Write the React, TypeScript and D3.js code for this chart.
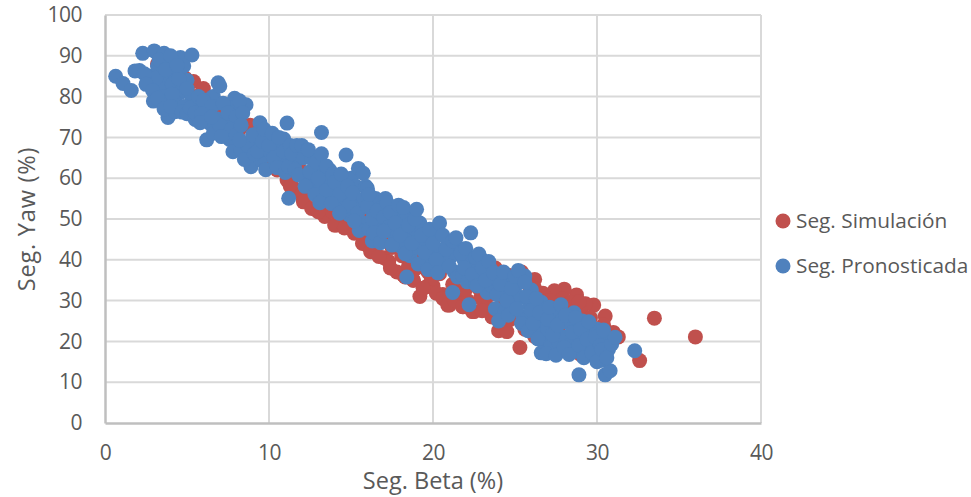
import React, { useEffect, useRef } from "react";
import * as d3 from "d3";

// [Seg. Beta, Seg. Yaw]
const simulacion: [number, number][] = [
  [33.5, 25.7], [36, 21.1], [32.6, 15.3], [19.2, 31], [25.3, 18.5], [21, 28.9], [22.5, 27.3], [21.85, 28.5],
  [24, 22.6], [24.5, 22.4], [30.5, 26.2], [30.4, 24], [29.8, 28.9], [29.3, 29.2], [28.75, 31.4], [28, 32.8], [27.4, 32.4],
  [26.7, 31.8], [26.2, 35.2], [25.4, 37], [31.3, 21.1], [18.8, 35], [5.4, 83.7], [6, 82], [8.85, 73], [7.8, 69.4],
  [8.6, 65.3], [11.1, 59.6], [11.5, 57.6], [12.1, 54.7], [13.4, 50.6], [14, 48.5], [14.8, 48.5], [15.3, 47.2],
  [16, 43.5], [16.4, 42.2], [17, 40.5], [17.3, 39.6], [17.8, 37], [18.2, 36.2], [19.6, 33.4], [20, 33.6], [20.6, 31.5],
  [19.9, 35.4], [18.5, 38.4], [21.4, 30.8], [22.1, 30], [22.9, 30.6], [23.3, 28.5], [23.6, 26], [24.7, 25.4],
  [25.6, 23], [26.2, 21.2], [27, 19], [28, 18.4], [29, 16.8], [30, 17.4], [30.8, 19.6], [31, 22.2], [27.9, 30.4],
  [27.1, 30], [26.2, 33], [25.8, 34], [28.4, 29.6], [29, 27.5], [29.6, 25.8], [28.9, 29.7], [24.6, 36.2], [23.8, 38],
  [3.2, 88], [3.8, 85], [4.4, 83], [4.9, 84.5], [5.5, 80], [6.3, 78], [7, 76], [7.6, 75.2], [8.2, 72], [9, 69], [9.6, 66],
  [9, 64.6], [10, 63], [10.5, 62], [11.3, 58], [12, 56], [12.6, 57.6], [13.1, 52.8], [13.8, 52], [14.5, 50],
  [15, 51], [15.8, 46], [16.6, 45.5], [17.5, 43], [18.1, 41], [19, 38], [19.7, 37], [20.4, 36.6], [21.2, 34], [22, 32.8],
  [22.8, 33], [23.5, 31.5], [24.2, 29], [25, 27.5], [26, 26], [26.8, 24], [27.6, 23], [28.5, 22], [29.4, 21],
  [8.2, 74.5], [10.2, 68], [11.8, 63], [13.2, 58.5], [14.6, 54], [16, 49.5], [17.4, 46.6], [18.9, 42], [20.5, 38.5],
  [22, 36], [23.6, 35], [25, 31], [26.5, 29], [28, 26.4], [29.3, 24], [30.2, 21],
  [12.1, 54.2], [12.6, 52.6], [13, 51.8], [14.1, 48.5], [14.6, 47.8], [15.2, 46.5], [15.7, 44], [16.2, 42], [16.7, 40.8],
  [17.4, 38], [18.3, 35.8], [18.8, 35], [19.4, 33], [20.2, 31.8], [20.6, 30.5], [20.9, 28.9], [21.3, 30], [21.8, 28.5],
  [22.4, 27.3], [23, 27.5],
];

const pronosticada: [number, number][] = [
  // upper left cloud
  [0.65, 85], [1.1, 83.2], [1.6, 81.5], [1.83, 86.3], [2.1, 86.4], [2.3, 90.6], [3, 91.2], [3.6, 90.6], [4.6, 89.6],
  [5.3, 90.2], [4.8, 87.5], [2.95, 78.9], [3.84, 74.9], [4.27, 76.3], [2.7, 85], [3.2, 87.5], [3.5, 85], [3.9, 88],
  [4.2, 86], [3.4, 82], [3.6, 80], [4.1, 83], [4.6, 81], [5, 84], [5.3, 79.5], [4.3, 78.5], [3.3, 89], [4, 90],
  [3.1, 84.5], [2.4, 85.6], [4.5, 84.4], [5, 82], [5.6, 78.2], [4.8, 77.6], [4.1, 80.6],
  [2.5, 83], [2.9, 81.5], [3.2, 79.6], [3.6, 77], [4, 77.6], [4.7, 76.2], [5, 75.8], [5.5, 74.4], [3.7, 86.6], [4.4, 87.6],
  // 5 - 10
  [5.2, 77.2], [5.7, 80], [6.1, 76.6], [6.3, 79.2], [6.8, 78.4], [6.8, 74.6], [7.3, 74.4], [7.4, 71.6], [7.8, 77.6], [8, 73],
  [7.6, 69.5], [6.6, 80], [5.5, 76],
  [6.9, 83.4], [6.2, 69.4], [7.8, 66.5], [8.6, 78], [7.9, 79.6], [8.2, 79], [7, 82.6], [6, 79], [6.5, 77.6], [7.2, 78.4],
  [5.9, 75.8], [6.4, 73.4], [5.8, 73.6], [6.6, 71], [7, 73], [7.5, 76], [8, 75], [8.4, 76], [7.7, 72], [7.1, 70.2],
  [6.5, 75], [8, 70.6], [8.3, 73], [9.45, 73.6], [9.3, 71], [9, 68.5], [8.8, 66], [8.9, 62.8], [9.5, 64.5], [9.8, 62.1],
  [8.3, 66.8], [8.5, 64.6], [8.7, 68], [9.1, 66], [9.5, 67], [8.2, 69.4],
  [9, 70.6], [9.3, 66.6], [9.6, 69], [9.7, 72], [10.1, 66.4], [10.4, 63.6], [10.5, 67.6], [10.8, 64], [10.9, 69.6],
  [10, 68], [10.2, 71], [10.6, 70], [11.1, 73.5], [10.3, 65], [10.9, 66.5], [10.5, 62.6], [11, 61.4], [11.3, 68], [11.6, 64],
  // 11 - 15
  [11.2, 62.8], [11.4, 66], [11.7, 68], [11.6, 62], [12.1, 65], [12.3, 60.2], [12.6, 64.8], [12.7, 58.4], [13, 62], [13.1, 57],
  [13.4, 60], [13.6, 55], [13.7, 62], [14, 56.8], [14.2, 53.5], [14.5, 59.4], [14.6, 55.4], [14.9, 51], [15, 60], [15.2, 54],
  [15.3, 58], [15.6, 52.8], [15.7, 49],
  [11.2, 55.1], [12, 68], [12.4, 67], [11.8, 60.8], [12.2, 58], [12.5, 61.6], [12.9, 64], [13.2, 66], [13.2, 71.2], [13, 60],
  [12.8, 56], [13.5, 63], [13.9, 61], [13.5, 57], [13.1, 54], [14, 59], [14.3, 56], [13.8, 53.8], [14.4, 61], [14.7, 65.7],
  [14.8, 58], [14.9, 53.4], [14.3, 51.4], [15.1, 56.4], [15.45, 62.4], [15.75, 61.2], [15.4, 51.4], [15.5, 47.2], [15.8, 55],
  [15.2, 49.5], [15.9, 58], [16, 57.5], [16.2, 52.5], [16.5, 55], [16.1, 47.5], [16.7, 49.4], [16.3, 44.6], [16.9, 53],
  // 16 - 21
  [16, 53], [16.1, 56], [16.3, 50], [16.4, 46.6], [16.6, 52], [16.8, 44.2], [17, 50.4], [17.1, 55], [17.3, 48], [17.6, 46.4],
  [17.8, 51], [18, 43.4], [18.1, 49], [18.4, 50.6], [18.6, 46], [18.6, 41], [18.9, 47.6], [19, 43], [19.2, 49], [19.4, 44],
  [19.6, 39.6], [19.9, 41.6], [20.1, 46], [20.5, 42.4], [20.6, 39], [20.9, 44.6], [21.1, 40.8], [21.3, 37], [21.5, 43],
  [17, 47], [17.2, 54], [17.4, 51.6], [17.5, 43.6], [17.7, 49], [17.9, 53.4], [18, 46], [18.2, 52.8], [18.3, 41.5], [18.5, 48.5],
  [18.7, 44], [18.9, 50], [19, 52.4], [18.4, 35.8], [19.1, 39], [19.3, 46], [19.5, 41.8], [19.8, 47.5], [19.7, 37.6], [20, 44],
  [20.2, 40], [20.4, 49], [20.3, 36.8], [20.6, 46], [20.8, 42.6], [21, 38.4], [21.2, 44.6], [21.4, 45.4], [21.2, 32], [21.5, 35.8],
  // 22 - 26
  [21.8, 36.2], [21.9, 40], [22.1, 34.6], [22.3, 39.6], [22.5, 38], [22.6, 34], [23, 40], [23.1, 36.4], [23.3, 32], [23.5, 37.8],
  [23.6, 33.6], [23.8, 28], [24, 36.4], [24.2, 31.6], [24.4, 27.4], [24.4, 35], [24.7, 32], [24.9, 28.6], [25.1, 34], [25.3, 30.8],
  [25.5, 26], [25.6, 36], [25.9, 29], [26, 32.6], [26.2, 25.8], [26.4, 22], [26.6, 29.6], [26.7, 25], [26.8, 20.4],
  [21.7, 41.6], [21.9, 38], [22, 42.8], [22.3, 46.6], [22.2, 29], [22.4, 36.4], [22.6, 40.6], [22.8, 41.4], [22.7, 33.6],
  [23, 38], [23.2, 35], [23.4, 39.6], [23.7, 36.8], [23.9, 31.5], [24, 25], [24.1, 34], [24.3, 37], [24.5, 30], [24.6, 26.4],
  [24.8, 33], [25, 36], [25.2, 37.4], [25.1, 28], [25.4, 24.4], [25.6, 34.5], [25.7, 31], [25.8, 22.6], [26, 27.6], [26.1, 24.4],
  [26.3, 30.5], [26.4, 20.6], [26.5, 27], [26.6, 17.2],
  // 27 - 32
  [27, 23], [27.2, 19], [27.3, 26.6], [27.5, 22.8], [27.7, 19.6], [27.9, 25.4], [28, 21], [28.3, 24.4], [28.4, 19.2], [28.6, 27],
  [28.7, 17.6], [29, 21], [29.1, 25], [29.3, 18.6], [29.6, 22.4], [29.8, 19], [30, 23], [30.1, 17], [30.6, 20.4], [30.7, 18], [30.3, 15.4],
  [26.9, 17], [27, 25.4], [27.1, 28.4], [27.3, 21.6], [27.5, 16.6], [27.6, 24], [27.8, 29], [28, 18.5], [28.1, 26.4], [28.3, 16.8],
  [28.5, 22.2], [28.7, 25.8], [28.9, 11.8], [28.9, 19], [29, 23], [29.2, 16], [29.4, 20.5], [29.5, 24.8], [29.7, 17.2], [29.9, 21],
  [30, 15], [30.2, 19], [30.3, 18], [30.4, 22.8], [30.5, 11.8], [30.8, 12.8], [30.6, 16], [30.9, 19.4], [31.1, 21], [32.3, 17.7],
];

const xTicks = [0, 10, 20, 30, 40];
const yTicks = [0, 10, 20, 30, 40, 50, 60, 70, 80, 90, 100];
const series = ["Seg. Simulación", "Seg. Pronosticada"];
const colors = ["#C0504D", "#4F81BD"];

export default function App() {
  const node = useRef<SVGSVGElement>(null);

  useEffect(() => {
    const svg = d3.select(node.current);
    svg.selectAll("*").remove();

    const fontFamily = "'Open Sans', sans-serif";
    const x = d3.scaleLinear().domain([0, 40]).range([105, 761]);
    const y = d3.scaleLinear().domain([0, 100]).range([423, 15]);

    // gridlines, Excel style
    svg.append("g").selectAll("line").data(yTicks.slice(1)).enter().append("line")
      .attr("x1", x(0)).attr("x2", x(40))
      .attr("y1", (d) => y(d)).attr("y2", (d) => y(d))
      .attr("stroke", "#D9D9D9").attr("stroke-width", 2);
    svg.append("g").selectAll("line").data(xTicks.slice(1)).enter().append("line")
      .attr("x1", (d) => x(d)).attr("x2", (d) => x(d))
      .attr("y1", y(0)).attr("y2", y(100))
      .attr("stroke", "#D9D9D9").attr("stroke-width", 2);

    const xAxis = svg.append("g").attr("transform", `translate(0,${y(0)})`)
      .call(d3.axisBottom(x).tickValues(xTicks).tickSize(0).tickPadding(22));
    const yAxis = svg.append("g").attr("transform", `translate(${x(0)},0)`)
      .call(d3.axisLeft(y).tickValues(yTicks).tickSize(0).tickPadding(23));
    [xAxis, yAxis].forEach((a) => {
      a.select(".domain").attr("stroke", "#BFBFBF").attr("stroke-width", 2.5);
      a.selectAll("text").attr("fill", "#595959")
        .style("font-family", fontFamily).style("font-size", "21px").style("letter-spacing", "-0.5px");
    });

    // simulation first, forecast on top
    [simulacion, pronosticada].forEach((points, i) => {
      svg.append("g").selectAll("circle").data(points).enter().append("circle")
        .attr("cx", (d) => x(d[0]))
        .attr("cy", (d) => y(d[1]))
        .attr("r", 7.5)
        .attr("fill", colors[i]);
    });

    svg.append("text")
      .attr("x", 433).attr("y", 489)
      .attr("text-anchor", "middle").attr("fill", "#595959")
      .style("font-family", fontFamily).style("font-size", "23.5px")
      .text("Seg. Beta (%)");
    svg.append("text")
      .attr("transform", "translate(35,219) rotate(-90)")
      .attr("text-anchor", "middle").attr("fill", "#595959")
      .style("font-family", fontFamily).style("font-size", "23.5px").style("letter-spacing", "0.8px")
      .text("Seg. Yaw (%)");

    const legend = svg.append("g").selectAll("g").data(series).enter().append("g")
      .attr("transform", (d, i) => `translate(783,${i === 0 ? 221 : 266})`);
    legend.append("circle").attr("r", 7.5).attr("fill", (d, i) => colors[i]);
    legend.append("text")
      .attr("x", 13).attr("y", 7)
      .attr("fill", "#595959")
      .style("font-family", fontFamily).style("font-size", "20.8px")
      .text((d) => d);
  }, []);

  return (
    <svg
      ref={node}
      width={971}
      height={497}
      style={{ position: "absolute", left: 0, top: 0, background: "#fff" }}
    />
  );
}
